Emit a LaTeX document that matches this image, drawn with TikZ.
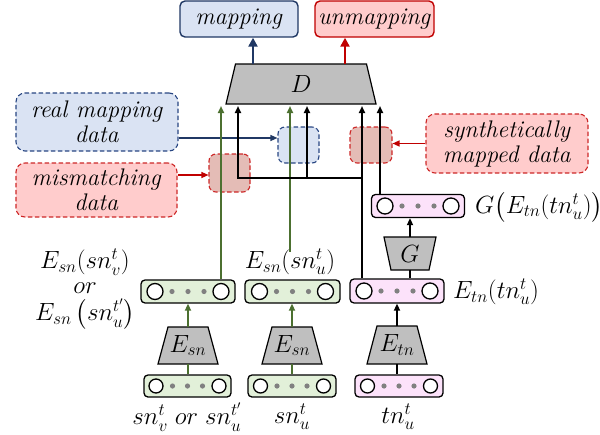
\documentclass[tikz,border=0pt]{standalone}
\usepackage{amsmath}
\usetikzlibrary{arrows.meta}
\definecolor{navy}{RGB}{32,56,100}
\definecolor{midnavy}{RGB}{40,70,130}
\definecolor{dred}{RGB}{192,0,0}
\definecolor{mred}{RGB}{205,40,40}
\definecolor{lblue}{RGB}{218,227,243}
\definecolor{lred}{RGB}{255,204,204}
\definecolor{sqred}{RGB}{228,188,182}
\definecolor{dgreen}{RGB}{76,112,48}
\definecolor{lgreen}{RGB}{226,240,217}
\definecolor{lpink}{RGB}{252,226,250}
\definecolor{trgray}{RGB}{191,191,191}
\definecolor{dotgray}{RGB}{128,128,128}
\newcommand{\vecbx}[9]{%
  \node[vec, fill=#6, minimum width=#4pt, minimum height=#5pt] (#1) at (#2,#3) {};
  \node[circ, minimum size=#8pt] (#1l) at (#2-#7,#3) {};
  \node[circ, minimum size=#8pt] (#1r) at (#2+#7,#3) {};
  \fill[dotgray] (#2-#9,#3) circle (2.6pt) (#2,#3) circle (2.6pt) (#2+#9,#3) circle (2.6pt);
}
\newcommand{\mktrap}[8]{%
  \draw[trapz] (#2-#5,#3) -- (#2+#5,#3) -- (#2+#6,#4) -- (#2-#6,#4) -- cycle;
  \coordinate (#1t) at (#2,#3);
  \coordinate (#1b) at (#2,#4);
  \node[inner sep=0pt, font=\fontsize{#8}{#8}\selectfont] (#1) at (#2,{(#3+#4)/2}) {#7};
}
\begin{document}
\begin{tikzpicture}[x=1pt,y=-1pt,
  txt/.style={font=\fontsize{24}{25}\selectfont},
  mth/.style={font=\fontsize{23}{25}\selectfont, inner sep=0pt},
  topbox/.style={rounded corners=5pt, line width=1.4pt, inner sep=0pt, txt},
  dbox/.style={rounded corners=9pt, line width=1.1pt, dash pattern=on 4.5pt off 2.5pt, inner sep=0pt, align=center, txt},
  sqbox/.style={rounded corners=7pt, line width=1.1pt, dash pattern=on 4.5pt off 2.5pt, inner sep=0pt},
  vec/.style={draw, line width=1.3pt, rounded corners=4pt, inner sep=0pt},
  circ/.style={draw, fill=white, line width=1.3pt, circle, inner sep=0pt},
  trapz/.style={draw, fill=trgray, line width=1.2pt, line join=miter},
  gline/.style={draw=dgreen, line width=2pt},
  garr/.style={gline, -{Triangle[length=7pt,width=6pt]}},
  kline/.style={draw=black, line width=2pt},
  karr/.style={kline, -{Triangle[length=7pt,width=6pt]}},
  bigarr/.style={line width=2.6pt, -{Triangle[length=9pt,width=9pt]}},
  carr/.style={line width=1.3pt, -{Triangle[length=7pt,width=6pt]}}]
\useasboundingbox (0,0) rectangle (600,434);

% top output boxes
\node[topbox, fill=lblue, draw=navy, minimum width=118pt, minimum height=36pt] (mapping) at (239,19) {\textit{mapping}};
\node[topbox, fill=lred, draw=dred, minimum width=119pt, minimum height=36pt] (unmapping) at (374.5,19) {\textit{unmapping}};

% discriminator
\mktrap{D}{301}{64}{104}{65.5}{75}{$D$}{28}
\coordinate (Din) at (301,106);
\coordinate (dmap) at (253,64);
\coordinate (dunm) at (345,64);
\draw[bigarr, navy] (dmap) -- (dmap |- mapping.south);
\draw[bigarr, dred] (dunm) -- (dunm |- unmapping.south);

% dashed description boxes
\node[dbox, fill=lblue, draw=midnavy, minimum width=162pt, minimum height=58pt] (realmap) at (97,122) {\textit{real mapping}\\\textit{data}};
\node[dbox, fill=lred, draw=mred, minimum width=161pt, minimum height=54pt] (mismatch) at (96.5,190) {\textit{mismatching}\\\textit{data}};
\node[dbox, fill=lred, draw=mred, minimum width=162pt, minimum height=59pt] (synth) at (507,143.5) {\textit{synthetically}\\\textit{mapped data}};

% small data squares
\node[sqbox, fill=lblue, draw=midnavy, minimum width=41pt, minimum height=36pt] (bsq) at (298.5,145) {};
\node[sqbox, fill=sqred, draw=mred, minimum width=41pt, minimum height=38pt] (rsq1) at (229.5,173) {};
\node[sqbox, fill=sqred, draw=mred, minimum width=42pt, minimum height=36pt] (rsq2) at (371,145) {};

\coordinate (yb) at (0,138);
\coordinate (yr) at (0,175);
\draw[carr, navy] (realmap.east |- yb) -- (bsq.west |- yb);
\draw[carr, dred] (mismatch.east |- yr) -- (rsq1.west |- yr);
\draw[carr, dred] (synth.west) -- (rsq2.east |- synth.west);

% vector boxes
\vecbx{o1}{188}{291.5}{94}{23}{lgreen}{33}{16}{16}
\vecbx{o2}{292.5}{291.5}{95}{23}{lgreen}{33}{16}{16}
\vecbx{o3}{397}{291}{94}{24}{lpink}{33}{16}{16}
\vecbx{gout}{418}{206}{93}{23}{lpink}{33}{16}{16}
\vecbx{i1}{187.5}{386}{87}{22}{lgreen}{31.5}{14}{15}
\vecbx{i2}{292}{386}{88}{22}{lgreen}{31.5}{14}{15}
\vecbx{i3}{399}{386}{88}{22}{lpink}{31.5}{14}{15}

% encoders and generator
\mktrap{e1}{188}{327}{364}{20}{30}{$E_{sn}$}{24}
\mktrap{e2}{292}{327}{364}{20}{30}{$E_{sn}$}{24}
\mktrap{e3}{397}{326}{364}{20}{30}{$E_{tn}$}{24}
\mktrap{g}{410}{237}{270}{26}{19}{$G$}{24}

% labels
\node[mth, align=center] (lsn) at (85,289.5) {$E_{sn}(sn_v^t)$\\$or$\\[2pt]$E_{sn}\left(sn_u^{t'}\right)$};
\node[mth] (esnu) at (290,262) {$E_{sn}(sn_u^t)$};
\node[mth, anchor=west] (etnl) at (453,292) {$E_{tn}(tn_u^t)$};
\node[mth, anchor=west] (gl) at (475,207) {$G\big(E_{tn}(tn_u^t)\big)$};
\node[mth] (b1) at (187,417) {$sn_v^t\ or\ sn_u^{t'}$};
\node[mth] (b2) at (292,417) {$sn_u^t$};
\node[mth] (b3) at (398,417) {$tn_u^t$};

% encoder internal connectors
\draw[gline] (i1.north -| e1b) -- (e1b);
\draw[garr] (e1t) -- (o1.south -| e1t);
\draw[gline] (i2.north -| e2b) -- (e2b);
\draw[garr] (e2t) -- (o2.south -| e2t);
\draw[kline] (i3.north -| e3b) -- (e3b);
\draw[karr] (e3t) -- (o3.south -| e3t);
\draw[kline] (o3.north -| gb) -- (gb);
\draw[karr] (gt) -- (gout.south -| gt);

% connectors into D
\draw[garr] (o1r |- o1.north) -- (o1r |- Din);
\draw[garr] ([yshift=-3pt]esnu.north) -- (esnu.north |- Din);
\coordinate (k3) at ([xshift=-2pt]o3l.center |- o3.north);
\draw[karr] (k3) -- (k3 |- Din);
\coordinate (jn) at (k3 |- 0,178);
\coordinate (in1) at (238,106);
\coordinate (in2) at (307,106);
\draw[karr] (jn) -| (in1);
\draw[karr] (in2 |- jn) -- (in2);
\coordinate (kg) at ([xshift=-5pt]goutl.center |- gout.north);
\draw[karr] (kg) -- (kg |- Din);
\end{tikzpicture}
\end{document}
